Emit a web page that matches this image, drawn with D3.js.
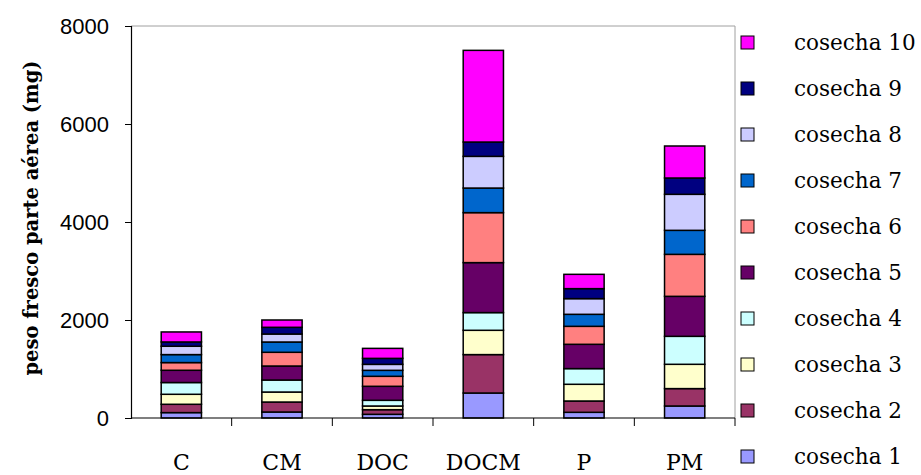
<!DOCTYPE html>
<html><head><meta charset="utf-8">
<script src="https://cdn.jsdelivr.net/npm/d3@7"></script>
<style>html,body{margin:0;padding:0;background:#fff;}svg{display:block;}</style>
</head><body><svg id="chart" width="921" height="475"></svg>
<script>
const categories = ["C", "CM", "DOC", "DOCM", "P", "PM"];
const seriesNames = ["cosecha 1","cosecha 2","cosecha 3","cosecha 4","cosecha 5","cosecha 6","cosecha 7","cosecha 8","cosecha 9","cosecha 10"];
const cosecha1  = [110, 122, 75, 510, 116, 245];
const cosecha2  = [170, 204, 95, 784, 231, 355];
const cosecha3  = [204, 204, 75, 496, 341, 496];
const cosecha4  = [240, 245, 116, 361, 320, 571];
const cosecha5  = [250, 286, 286, 1020, 496, 816];
const cosecha6  = [157, 280, 204, 1020, 367, 857];
const cosecha7  = [163, 210, 122, 502, 245, 490];
const cosecha8  = [170, 163, 122, 647, 320, 735];
const cosecha9  = [88, 137, 122, 292, 204, 333];
const cosecha10 = [204, 149, 204, 1871, 292, 653];
const seriesValues = [cosecha1,cosecha2,cosecha3,cosecha4,cosecha5,cosecha6,cosecha7,cosecha8,cosecha9,cosecha10];
const colors = ["#9999FF","#993366","#FFFFCC","#CCFFFF","#660066","#FF8080","#0066CC","#CCCCFF","#000080","#FF00FF"];
const yTicks = [0, 2000, 4000, 6000, 8000];
const yLabel = "peso fresco parte aérea (mg)";

const svg = d3.select("#chart");
const pLeft = 131, pRight = 735, pTop = 26, pBottom = 418;

const x = d3.scaleBand().domain(categories).range([pLeft, pRight]).paddingInner(0.6).paddingOuter(0.3);
const xb = d3.scaleBand().domain(categories).range([pLeft, pRight]);
const y = d3.scaleLinear().domain([0, 8000]).range([pBottom, pTop]);

// plot border (top/right)
svg.append("line").attr("x1", pLeft).attr("x2", pRight).attr("y1", pTop).attr("y2", pTop).attr("stroke", "#a0a0a0").attr("stroke-width", 1);
svg.append("line").attr("x1", pRight).attr("x2", pRight).attr("y1", pTop).attr("y2", pBottom).attr("stroke", "#a0a0a0").attr("stroke-width", 1);

// stack data
const table = categories.map((c, i) => {
  const o = {cat: c};
  seriesNames.forEach((s, j) => o[s] = seriesValues[j][i]);
  return o;
});
const stacked = d3.stack().keys(seriesNames)(table);

svg.append("g").selectAll("g").data(stacked).join("g")
  .attr("fill", (d, i) => colors[i])
  .selectAll("rect").data(d => d).join("rect")
  .attr("x", d => x(d.data.cat))
  .attr("width", x.bandwidth())
  .attr("y", d => y(d[1]))
  .attr("height", d => y(d[0]) - y(d[1]))
  .attr("stroke", "#000")
  .attr("stroke-width", 1.5);

// y axis
const yAxis = d3.axisLeft(y).tickValues(yTicks).tickSize(6).tickPadding(16).tickFormat(d3.format("d"));
const gy = svg.append("g").attr("transform", `translate(${pLeft},0)`).call(yAxis);
gy.select(".domain").attr("stroke", "#000").attr("stroke-width", 1.2);
gy.selectAll(".tick line").attr("stroke", "#000");
gy.selectAll("text").attr("font-family", "Liberation Sans, Arial, sans-serif").attr("font-size", 22).attr("fill", "#000");

// x axis
const gx = svg.append("g").attr("transform", `translate(0,${pBottom})`);
gx.append("line").attr("x1", pLeft).attr("x2", pRight).attr("y1", 0).attr("y2", 0).attr("stroke", "#000").attr("stroke-width", 1.2);
gx.selectAll("line.tk").data(categories).join("line").attr("class", "tk")
  .attr("x1", d => xb(d) + xb.bandwidth()).attr("x2", d => xb(d) + xb.bandwidth())
  .attr("y1", 0).attr("y2", 8).attr("stroke", "#000");
gx.selectAll("text").data(categories).join("text")
  .attr("x", d => xb(d) + xb.bandwidth() / 2)
  .attr("y", 52)
  .attr("text-anchor", "middle")
  .attr("font-family", "DejaVu Serif, serif").attr("font-size", 22)
  .text(d => d);

// y label
svg.append("text")
  .attr("transform", `translate(38,${(pTop + pBottom) / 2 - 4}) rotate(-90)`)
  .attr("text-anchor", "middle")
  .attr("font-family", "DejaVu Serif, serif").attr("font-weight", "bold").attr("font-size", 19.5)
  .text(yLabel);

// legend
const legend = svg.append("g");
const order = d3.range(seriesNames.length).reverse();
const lg = legend.selectAll("g").data(order).join("g")
  .attr("transform", (d, i) => `translate(741,${43 + i * 46})`);
lg.append("rect").attr("x", 0).attr("y", -7).attr("width", 13).attr("height", 13)
  .attr("fill", d => colors[d]).attr("stroke", "#000").attr("stroke-width", 1);
lg.append("text").attr("x", 53).attr("y", 7)
  .attr("font-family", "DejaVu Serif, serif").attr("font-size", 21.5)
  .text(d => seriesNames[d]);
</script></body></html>
